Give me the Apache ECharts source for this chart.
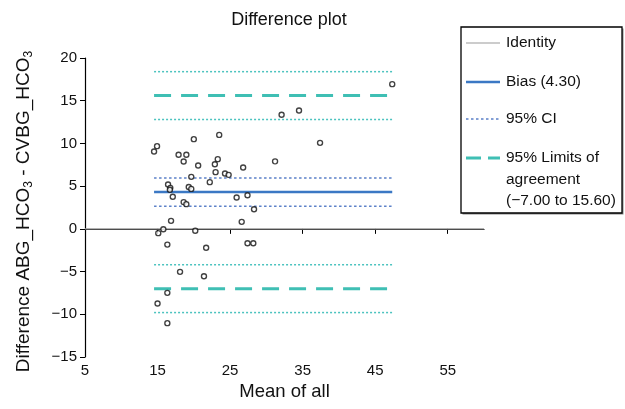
<!DOCTYPE html>
<html>
<head>
<meta charset="utf-8">
<script src="https://cdn.jsdelivr.net/npm/echarts@6/dist/echarts.min.js"></script>
<style>html,body{margin:0;padding:0;background:#fff}#c{width:625px;height:409px}</style>
</head>
<body>
<div id="c"></div>
<script>
// Mean of all (x) and difference ABG - CVBG HCO3 (y) for each subject
var meanAll = [14.52,14.93,17.9,18.97,18.6,20.0,23.5,20.6,23.3,22.9,23.0,24.3,24.8,26.8,31.2,32.1,34.5,19.65,22.2,16.45,16.76,16.7,19.3,19.65,17.1,18.6,18.97,25.9,27.4,28.3,16.86,15.8,15.1,20.2,26.6,16.35,21.7,27.4,28.2,18.1,21.4,16.35,15.0,16.35,47.35,37.4];
var difference = [9.05,9.68,8.67,8.67,7.88,10.5,11.0,7.41,8.16,7.57,6.64,6.48,6.32,7.18,7.9,13.35,13.85,6.09,5.47,5.19,4.8,4.57,4.9,4.68,3.75,3.13,2.89,3.67,3.94,2.3,0.94,-0.04,-0.5,-0.23,0.82,-1.84,-2.22,-1.68,-1.68,-5.03,-5.54,-7.49,-8.74,-11.04,16.94,10.07];

var bias = 4.30;
var biasCI = [2.65, 5.95];
var limits = [-7.00, 15.60];
var lowerLimitCI = [-9.8, -4.2];
var upperLimitCI = [12.8, 18.4];

var xTicks = [5, 15, 25, 35, 45, 55];
var xRange = [5, 60];
var yRange = [-15, 20];

var legendLabels = ['Identity', 'Bias (4.30)', '95% CI', '95% Limits of\nagreement\n(\u22127.00 to 15.60)'];

var pts = meanAll.map(function (x, i) { return [x, difference[i]]; });
var xMin = Math.min.apply(null, meanAll), xMax = Math.max.apply(null, meanAll);
function hline(v) { return [[xMin, v], [xMax, v]]; }

var C_BIAS = '#3b78c4', C_CI = '#5b80c8', C_LOA = '#3fbfb4', C_LOACI = '#4cc3bf';
var FONT = 'Liberation Sans, Arial, Helvetica, sans-serif';

function lineSeries(data, color, width, type, z) {
  return { type: 'line', data: data, symbol: 'none', silent: true, z: z || 2,
    lineStyle: { color: color, width: width, type: type } };
}

var series = [
  lineSeries([[xRange[0], 0], [xRange[1], 0]], '#9a9a9a', 1.2, 'solid', 1),
  lineSeries(hline(upperLimitCI[1]), C_LOACI, 1.5, [2, 2]),
  lineSeries(hline(upperLimitCI[0]), C_LOACI, 1.5, [2, 2]),
  lineSeries(hline(limits[1]), C_LOA, 3, [17, 10]),
  lineSeries(hline(biasCI[1]), C_CI, 1.5, [2.5, 2.5]),
  lineSeries(hline(bias), C_BIAS, 2.5, 'solid'),
  lineSeries(hline(biasCI[0]), C_CI, 1.5, [2.5, 2.5]),
  lineSeries(hline(lowerLimitCI[1]), C_LOACI, 1.5, [2, 2]),
  lineSeries(hline(limits[0]), C_LOA, 3, [17, 10]),
  lineSeries(hline(lowerLimitCI[0]), C_LOACI, 1.5, [2, 2]),
  { type: 'scatter', data: pts, symbol: 'circle', symbolSize: 5, z: 5,
    itemStyle: { color: '#fff', borderColor: '#111', borderWidth: 1.4 } }
];

// legend and title drawn as graphic
var LX = 461, LY = 27, LW = 161, LH = 186;
var rowY = [43, 82, 119, 158];
var graphics = [
  { type: 'text', x: 289, y: 20, z: 12,
    style: { text: 'Difference plot', fontSize: 18, fontFamily: FONT, fill: '#111', align: 'center', verticalAlign: 'middle' } },
  { type: 'rect', shape: { x: LX + 1.5, y: LY + 1.5, width: LW, height: LH }, style: { fill: '#888' }, z: 10 },
  { type: 'rect', shape: { x: LX, y: LY, width: LW, height: LH }, style: { fill: '#fff', stroke: '#000', lineWidth: 1.3 }, z: 11 }
];
var legendStyles = [
  { stroke: '#9a9a9a', lineWidth: 1.2, lineDash: null },
  { stroke: C_BIAS, lineWidth: 2.5, lineDash: null },
  { stroke: C_CI, lineWidth: 1.5, lineDash: [2.5, 2.5] },
  { stroke: C_LOA, lineWidth: 3, lineDash: [15, 7] }
];
legendLabels.forEach(function (lab, i) {
  graphics.push({ type: 'line', shape: { x1: 466, y1: rowY[i], x2: 500, y2: rowY[i] },
    style: legendStyles[i], z: 12 });
  graphics.push({ type: 'text', x: 506, y: rowY[i] - 11, z: 12,
    style: { text: lab, fontSize: 15.5, fontFamily: FONT, fill: '#111', lineHeight: 21.5, verticalAlign: 'top', align: 'left' } });
});

var chart = echarts.init(document.getElementById('c'), null, { renderer: 'canvas' });
chart.setOption({
  animation: false,
  backgroundColor: '#fff',
  grid: { left: 85, right: 141, top: 58, bottom: 52 },
  xAxis: {
    type: 'value', min: xRange[0], max: xRange[1],
    name: 'Mean of all', nameLocation: 'middle', nameGap: 21,
    nameTextStyle: { fontSize: 18.5, color: '#111', fontFamily: FONT },
    axisLine: { lineStyle: { color: '#000', width: 1.2 } },
    axisTick: { show: true, length: 5, customValues: xTicks, lineStyle: { color: '#000' } },
    axisLabel: { customValues: xTicks, fontSize: 15, color: '#111', fontFamily: FONT, margin: 6 },
    splitLine: { show: false }
  },
  yAxis: {
    type: 'value', min: yRange[0], max: yRange[1], interval: 5,
    name: 'Difference ABG_HCO{s|3} - CVBG_HCO{s|3}', nameLocation: 'middle', nameGap: 50, nameRotate: 90,
    nameTextStyle: { fontSize: 19, color: '#111', fontFamily: FONT, padding: [0, 8, 0, 0],
      rich: { s: { fontSize: 12, color: '#111', fontFamily: FONT, padding: [10, 0, 0, 0], verticalAlign: 'top' } } },
    axisLine: { show: true, lineStyle: { color: '#000', width: 1.2 } },
    axisTick: { show: true, length: 5, lineStyle: { color: '#000' } },
    axisLabel: { fontSize: 15, color: '#111', fontFamily: FONT, margin: 8,
      formatter: function (v) { return String(v).replace('-', '\u2212'); } },
    splitLine: { show: false }
  },
  series: series,
  graphic: graphics
});
</script>
</body>
</html>
